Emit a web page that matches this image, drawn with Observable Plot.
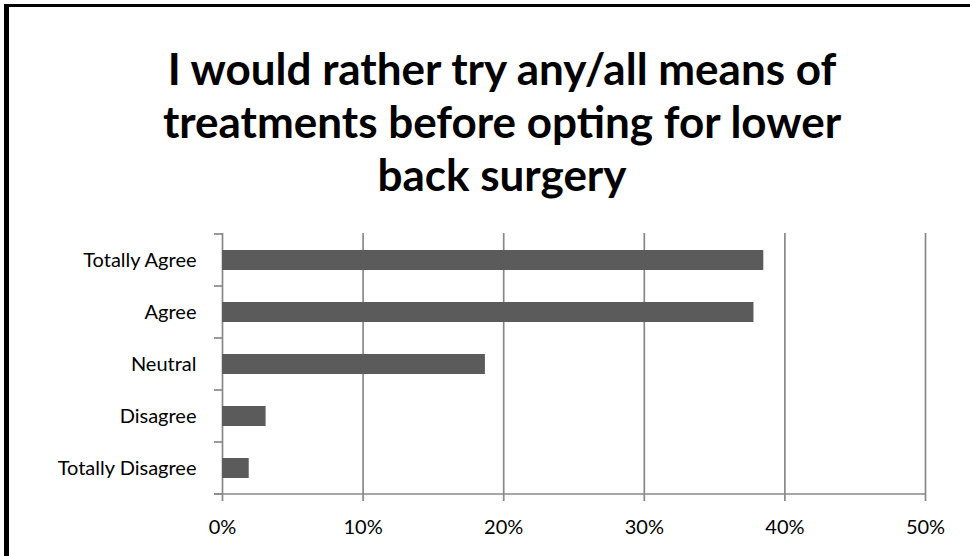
<!DOCTYPE html>
<html>
<head>
<meta charset="utf-8">
<script src="https://cdn.jsdelivr.net/npm/d3@7"></script>
<script src="https://cdn.jsdelivr.net/npm/@observablehq/plot@0.6"></script>
<style>
  html, body { margin: 0; padding: 0; background: #fff; }
  body { width: 970px; height: 556px; overflow: hidden; position: relative; font-family: Lato, sans-serif; }
  #frame { position: absolute; left: 4px; top: 4px; width: 1100px; height: 700px;
           border-left: 5px solid #000; border-top: 3px solid #000; box-sizing: border-box; }
  #title { position: absolute; left: 0; top: 42px; width: 1004px; text-align: center;
           font-weight: 700; font-size: 44px; line-height: 53px; color: #000; }
  #chart { position: absolute; left: 0; top: 215px; }
</style>
</head>
<body>
<div id="frame"></div>
<div id="title">I would rather try any/all means of<br>treatments before opting for lower<br>back surgery</div>
<div id="chart"></div>
<script>
// Survey answers and the share of respondents giving each one
const responses = ["Totally Agree", "Agree", "Neutral", "Disagree", "Totally Disagree"];
const shares = [0.385, 0.378, 0.187, 0.031, 0.019];
const xTicks = [0, 0.1, 0.2, 0.3, 0.4, 0.5];

const data = responses.map((response, i) => ({response, share: shares[i]}));

const axisGray = "#888888";

// Category boundary ticks on the left axis plus the baseline under the bars
function categoryAxis(index, {x, y}, values, dims) {
  const g = d3.create("svg:g")
    .attr("stroke", axisGray)
    .attr("stroke-width", 1.7)
    .attr("fill", "none");
  const left = dims.marginLeft;
  const right = dims.width - dims.marginRight;
  const bottom = dims.height - dims.marginBottom;
  const edges = responses.map((r) => y(r)).concat([bottom]);
  for (const e of edges) {
    g.append("line").attr("x1", left - 8).attr("x2", x(0)).attr("y1", e).attr("y2", e);
  }
  g.append("line").attr("x1", left - 8).attr("x2", right).attr("y1", bottom).attr("y2", bottom);
  return g.node();
}

const chart = Plot.plot({
  width: 970,
  height: 341,
  marginLeft: 222,
  marginRight: 45,
  marginTop: 18,
  marginBottom: 62,
  style: {fontFamily: "Lato, sans-serif", fontSize: "20px", color: "#000", background: "transparent"},
  x: {domain: [0, 0.5], label: null},
  y: {domain: responses, padding: 0, label: null},
  marks: [
    Plot.gridX(xTicks, {stroke: axisGray, strokeOpacity: 1, strokeWidth: 1.7}),
    Plot.barX(data, {x: "share", y: "response", fill: "#5b5b5b", insetTop: 16, insetBottom: 16}),
    Plot.axisX(xTicks, {tickFormat: d3.format(".0%"), tickSize: 7, tickPadding: 18, stroke: axisGray, strokeWidth: 1.7, fontSize: 20}),
    Plot.axisY({tickSize: 0, tickPadding: 26, fontSize: 20}),
    categoryAxis
  ]
});

document.getElementById("chart").append(chart);
</script>
</body>
</html>
